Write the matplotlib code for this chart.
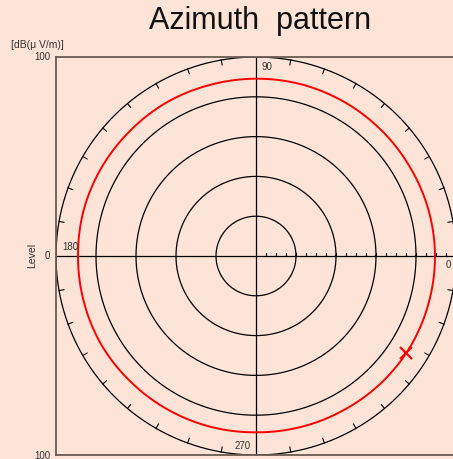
import numpy as np
import matplotlib.pyplot as plt

plt.rcParams['font.family'] = ['Liberation Sans', 'DejaVu Sans']

# measured level (dB(uV/m)) vs azimuth angle (deg)
angles = [0, 15, 30, 45, 60, 75, 90, 105, 120, 135, 150, 165, 180,
          195, 210, 225, 240, 255, 270, 285, 300, 315, 330, 345, 360]
levels = [89.5, 89.3, 89.0, 89.0, 89.1, 89.2, 89.1, 89.0, 89.2, 89.0, 89.1, 89.2, 89.0,
          89.1, 89.3, 89.0, 88.9, 88.8, 88.6, 88.8, 89.0, 89.4, 89.6, 89.5, 89.5]
marker_angle = 327
marker_level = 89.6
rings = [20, 40, 60, 80, 100]
angle_labels = ['0', '90', '180', '270']

bg = '#fde4d6'
fig = plt.figure(figsize=(4.53, 4.59), dpi=100, facecolor=bg)
ax = fig.add_axes([56 / 453, 4 / 459, 400 / 453, 398 / 459])
ax.set_facecolor(bg)
ax.set_xlim(-100, 100)
ax.set_ylim(-100, 100)
ax.set_xticks([])
ax.set_yticks([])
for s in ax.spines.values():
    s.set_color('#6b5a50')
    s.set_linewidth(1.3)

t = np.linspace(0, 2 * np.pi, 721)
for r in rings:
    ax.plot(r * np.cos(t), r * np.sin(t), color='black', lw=0.9)

# cross lines
ax.plot([-100, 100], [0, 0], color='black', lw=0.9)
ax.plot([0, 0], [-100, 100], color='black', lw=0.9)

# minor ticks on the radial (0 deg) axis
for v in np.arange(5, 100, 5):
    ax.plot([v, v], [0, 1.5], color='black', lw=0.8)

# angular ticks on outer circle
for a in range(0, 360, 10):
    if a % 90 == 0:
        continue
    th = np.radians(a)
    ax.plot([100 * np.cos(th), 97.5 * np.cos(th)],
            [100 * np.sin(th), 97.5 * np.sin(th)], color='black', lw=0.8)

# pattern
fine = np.linspace(0, 360, 361)
lf = np.interp(fine, angles, levels)
ax.plot(lf * np.cos(np.radians(fine)), lf * np.sin(np.radians(fine)),
        color='#ff0000', lw=1.4)
mth = np.radians(marker_angle)
ax.plot(marker_level * np.cos(mth), marker_level * np.sin(mth), 'x',
        color='#ff0000', ms=8, mew=1.5)

tc = '#333333'
fs = 7
ax.text(3, 95, angle_labels[1], fontsize=fs, color=tc, va='center', ha='left')
ax.text(-97, 4.5, angle_labels[2], fontsize=fs, color=tc, va='center', ha='left')
ax.text(-2.5, -95.5, angle_labels[3], fontsize=fs, color=tc, va='center', ha='right')
ax.text(95, -4.5, angle_labels[0], fontsize=fs, color=tc, va='center', ha='left')

fig.text(260 / 453, 1 - 21 / 459, 'Azimuth  pattern', fontsize=22,
         ha='center', va='center', color='#111111')
fig.text(37 / 453, 1 - 45 / 459, '[dB(\u03bc V/m)]', fontsize=7.5, ha='center',
         va='center', color=tc)
fig.text(50 / 453, 1 - 57 / 459, '100', fontsize=fs, ha='right', va='center', color=tc)
fig.text(50 / 453, 1 - 256 / 459, '0', fontsize=fs, ha='right', va='center', color=tc)
fig.text(50 / 453, 1 - 456 / 459, '100', fontsize=fs, ha='right', va='center', color=tc)
fig.text(32 / 453, 1 - 255 / 459, 'Level', fontsize=7.5, ha='center', va='center',
         rotation=90, color=tc)

fig.savefig('out.png', dpi=100, facecolor=bg)
